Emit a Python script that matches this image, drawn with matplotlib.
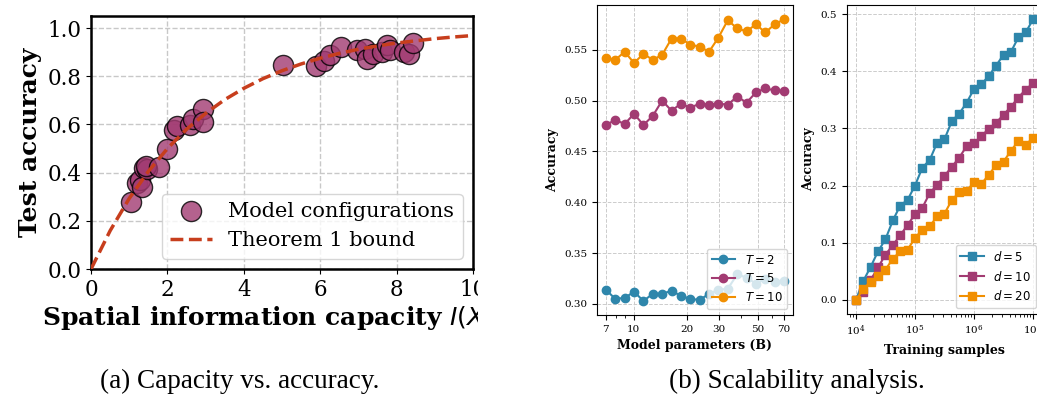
import numpy as np
import matplotlib.pyplot as plt
from matplotlib.patches import Rectangle
from matplotlib.ticker import NullFormatter

plt.rcParams['font.family'] = 'DejaVu Serif'

# (a) capacity vs accuracy
cap_x = [1.05, 1.20, 1.27, 1.33, 1.39, 1.46, 1.44, 1.77, 2.00, 2.16, 2.24, 2.58, 2.66, 2.92, 2.92,
         5.03, 5.88, 6.10, 6.26, 6.54, 6.97, 7.17, 7.22, 7.38, 7.61, 7.74, 7.83, 8.18, 8.31, 8.44]
cap_y = [0.276, 0.356, 0.370, 0.342, 0.421, 0.415, 0.428, 0.424, 0.498, 0.576, 0.593, 0.598, 0.622, 0.662, 0.610,
         0.845, 0.843, 0.862, 0.888, 0.922, 0.907, 0.914, 0.871, 0.894, 0.900, 0.931, 0.910, 0.900, 0.893, 0.940]
bound_x = [0, 0.5, 1, 1.5, 2, 2.5, 3, 3.5, 4, 4.5, 5, 5.5, 6, 6.5, 7, 7.5, 8, 8.5, 9, 9.5, 10]
bound_y = [0.0, 0.159, 0.293, 0.405, 0.500, 0.580, 0.646, 0.703, 0.750, 0.790, 0.823,
           0.851, 0.875, 0.895, 0.912, 0.926, 0.938, 0.947, 0.956, 0.963, 0.969]

# (b) model size
params = [7.0, 7.9, 8.92, 10.07, 11.37, 12.83, 14.48, 16.35, 18.45, 20.83,
          23.51, 26.54, 29.96, 33.82, 38.17, 43.09, 48.64, 54.9, 61.98, 70.0]
acc_t2 = [0.314, 0.305, 0.306, 0.312, 0.303, 0.310, 0.310, 0.313, 0.308, 0.305,
          0.304, 0.310, 0.314, 0.315, 0.329, 0.326, 0.320, 0.325, 0.322, 0.323]
acc_t5 = [0.476, 0.481, 0.477, 0.487, 0.476, 0.485, 0.500, 0.490, 0.497, 0.493,
          0.497, 0.496, 0.497, 0.496, 0.504, 0.498, 0.508, 0.512, 0.510, 0.509]
acc_t10 = [0.542, 0.540, 0.548, 0.537, 0.546, 0.540, 0.545, 0.561, 0.561, 0.555,
           0.553, 0.548, 0.562, 0.579, 0.571, 0.568, 0.575, 0.567, 0.575, 0.580]
param_ticks = [7, 10, 20, 30, 50, 70]

# (b) training samples
samples = [1.0e4, 1.33e4, 1.78e4, 2.37e4, 3.16e4, 4.22e4, 5.62e4, 7.5e4,
           1.0e5, 1.33e5, 1.78e5, 2.37e5, 3.16e5, 4.22e5, 5.62e5, 7.5e5,
           1.0e6, 1.33e6, 1.78e6, 2.37e6, 3.16e6, 4.22e6, 5.62e6, 7.5e6, 1.0e7]
acc_d5 = [0.0, 0.033, 0.058, 0.085, 0.106, 0.139, 0.165, 0.175, 0.200, 0.231, 0.245, 0.275, 0.281,
          0.313, 0.326, 0.345, 0.369, 0.377, 0.392, 0.410, 0.429, 0.434, 0.459, 0.468, 0.491]
acc_d10 = [0.0, 0.014, 0.035, 0.057, 0.079, 0.096, 0.113, 0.131, 0.150, 0.161, 0.187, 0.201, 0.217,
           0.233, 0.249, 0.269, 0.274, 0.287, 0.299, 0.310, 0.324, 0.338, 0.354, 0.368, 0.379]
acc_d20 = [0.0, 0.019, 0.032, 0.042, 0.053, 0.072, 0.085, 0.088, 0.108, 0.123, 0.129, 0.146, 0.151,
           0.175, 0.188, 0.191, 0.206, 0.203, 0.219, 0.236, 0.242, 0.261, 0.278, 0.271, 0.284]

blue, purple, orange, red = '#2E86AB', '#A23B72', '#F18F01', '#C73E1D'

fig = plt.figure(figsize=(10.37, 3.96), dpi=100)

# ---- panel (a)
ax1 = fig.add_axes([0.0878, 0.3207, 0.3684, 0.6389])
ax1.scatter(cap_x, cap_y, s=210, c=purple, alpha=0.8, edgecolors='black', linewidths=1,
            label='Model configurations', zorder=3)
ax1.plot(bound_x, bound_y, '--', color=red, lw=2.5, label='Theorem 1 bound', zorder=4)
ax1.set_xlim(0, 10)
ax1.set_ylim(0, 1.05)
ax1.set_xticks([0, 2, 4, 6, 8, 10])
ax1.set_yticks([0, 0.2, 0.4, 0.6, 0.8, 1.0])
ax1.tick_params(labelsize=15.5)
ax1.grid(True, ls='--', color='#c8c8c8', lw=1)
ax1.set_axisbelow(True)
for s in ax1.spines.values():
    s.set_linewidth(1.8)
ax1.set_xlabel('Spatial information capacity $I(X;Y)$', fontsize=18, fontweight='bold', labelpad=2)
ax1.set_ylabel('Test accuracy', fontsize=18, fontweight='bold')
ax1.legend(loc='lower right', fontsize=15)

# ---- panel (b) left
ax2 = fig.add_axes([0.5757, 0.2045, 0.189, 0.7825])
ax2.plot(params, acc_t2, '-o', color=blue, lw=1.5, ms=6, label='$T = 2$')
ax2.plot(params, acc_t5, '-o', color=purple, lw=1.5, ms=6, label='$T = 5$')
ax2.plot(params, acc_t10, '-o', color=orange, lw=1.5, ms=6, label='$T = 10$')
ax2.set_xscale('log')
ax2.set_xticks(param_ticks)
ax2.set_xticklabels([str(t) for t in param_ticks])
ax2.xaxis.set_minor_formatter(NullFormatter())
ax2.tick_params(labelsize=7.5)
ax2.grid(True, ls='--', color='#cccccc', lw=0.7)
ax2.set_xlabel('Model parameters (B)', fontsize=9, fontweight='bold')
ax2.set_ylabel('Accuracy', fontsize=9, fontweight='bold')
ax2.legend(loc='lower right', fontsize=8.5)

# ---- panel (b) right
ax3 = fig.add_axes([0.8168, 0.207, 0.188, 0.78])
ax3.plot(samples, acc_d5, '-s', color=blue, lw=1.5, ms=6, label='$d = 5$')
ax3.plot(samples, acc_d10, '-s', color=purple, lw=1.5, ms=6, label='$d = 10$')
ax3.plot(samples, acc_d20, '-s', color=orange, lw=1.5, ms=6, label='$d = 20$')
ax3.set_xscale('log')
ax3.tick_params(labelsize=7.5)
ax3.grid(True, ls='--', color='#cccccc', lw=0.7)
ax3.set_xlabel('Training samples', fontsize=9, fontweight='bold')
ax3.set_ylabel('Accuracy', fontsize=9, fontweight='bold')
ax3.legend(loc='lower right', fontsize=8.5)

# clip panel (a) where the subfigure ends
fig.add_artist(Rectangle((478 / 1037, 0.13), 62 / 1037, 0.87, transform=fig.transFigure,
                         facecolor='white', edgecolor='none', zorder=10))

fig.text(240 / 1037, 1 - 381 / 396, '(a) Capacity vs. accuracy.', ha='center', va='center',
         fontsize=19.5, family='Liberation Serif')
fig.text(797 / 1037, 1 - 381 / 396, '(b) Scalability analysis.', ha='center', va='center',
         fontsize=19.5, family='Liberation Serif')

fig.savefig('out.png', dpi=100)
